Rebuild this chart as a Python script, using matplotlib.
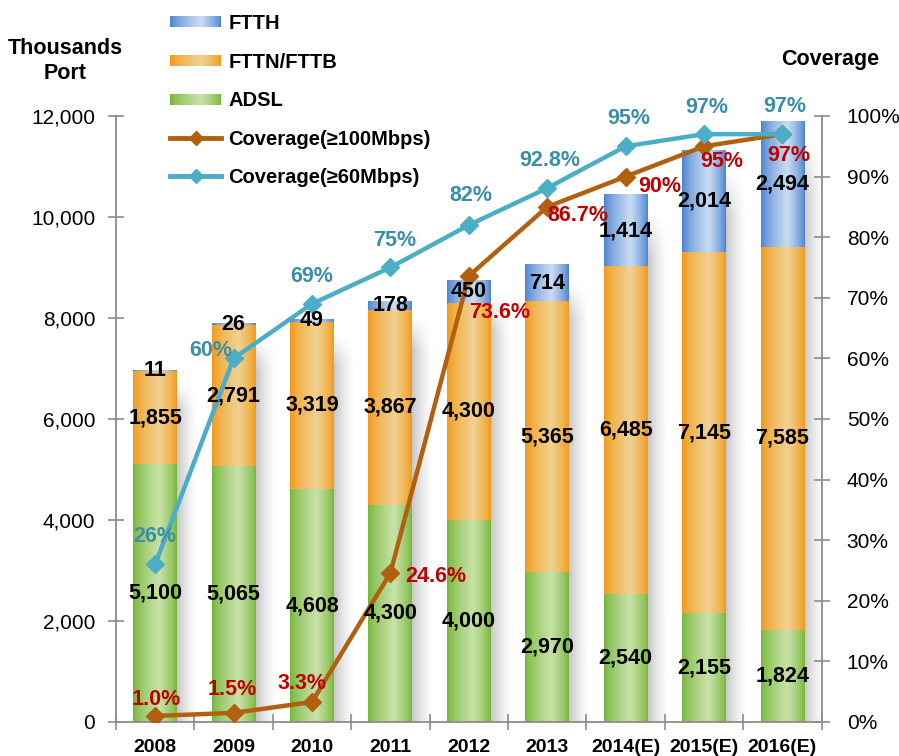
import numpy as np
import matplotlib
matplotlib.use("Agg")
import matplotlib.pyplot as plt
from matplotlib.patches import Rectangle
from matplotlib.lines import Line2D
from matplotlib.legend_handler import HandlerBase
from matplotlib.ticker import FuncFormatter, PercentFormatter, FixedLocator

plt.rcParams['font.family'] = ['Liberation Sans', 'DejaVu Sans']

# ---------------- data ----------------
years = ["2008", "2009", "2010", "2011", "2012", "2013", "2014(E)", "2015(E)", "2016(E)"]
adsl = [5100, 5065, 4608, 4300, 4000, 2970, 2540, 2155, 1824]
fttn = [1855, 2791, 3319, 3867, 4300, 5365, 6485, 7145, 7585]
ftth = [11, 26, 49, 178, 450, 714, 1414, 2014, 2494]
# coverage points as drawn (fraction of 100%)
cov100 = [0.010, 0.015, 0.033, 0.246, 0.736, 0.850, 0.900, 0.950, 0.970]
cov60 = [0.26, 0.60, 0.69, 0.75, 0.82, 0.881, 0.95, 0.97, 0.97]
# coverage labels as printed
cov100_labels = ["1.0%", "1.5%", "3.3%", "24.6%", "73.6%", "86.7%", "90%", "95%", "97%"]
cov60_labels = ["26%", "60%", "69%", "75%", "82%", "92.8%", "95%", "97%", "97%"]

# label offsets in pixels (dx, dy up) -- style only
off60 = [(0, 28), (-23, 8), (0, 27), (4, 27), (2, 30), (3, 28), (3, 28), (3, 27), (2, 28)]
off100 = [(1, 16), (-1, 23), (-10, 18), (45, -4), (31, -37), (31, -9), (34, -10), (18, -15), (6, -21)]

# ---------------- style ----------------
C_ADSL = ("#76b638", "#c8e2a8")
C_FTTN = ("#f29a18", "#f0d192")
C_FTTH = ("#4a83d0", "#cadcf3")
C_L100 = "#b0600f"
C_L60 = "#4badc6"
C_T60 = "#3a8fa6"
C_T100 = "#c00000"
AXC = "#8c8c8c"

def grad_profile(n=64):
    t = np.linspace(0, 1, n)
    g = np.where(t < 0.6, t / 0.6, (1 - t) / 0.4)
    return np.clip(g, 0, 1) ** 0.75

def grad_rgba(edge, light, n=64):
    e = np.array(matplotlib.colors.to_rgba(edge))
    l = np.array(matplotlib.colors.to_rgba(light))
    g = grad_profile(n)[:, None]
    return (e * (1 - g) + l * g)[None, :, :]

fig = plt.figure(figsize=(8.99, 7.56), dpi=100)
ax = fig.add_axes([0.129, 0.045, 0.785, 0.8016])
ax2 = ax.twinx()

x = np.arange(len(years))
w = 0.56
b1 = ax.bar(x, adsl, w, color=C_ADSL[0], zorder=2)
b2 = ax.bar(x, fttn, w, bottom=adsl, color=C_FTTN[0], zorder=2)
bottom3 = np.array(adsl) + np.array(fttn)
b3 = ax.bar(x, ftth, w, bottom=bottom3, color=C_FTTH[0], zorder=2)

# gradients over the bar patches
for cont, cols in ((b1, C_ADSL), (b2, C_FTTN), (b3, C_FTTH)):
    img = grad_rgba(*cols)
    for p in cont.patches:
        px, py = p.get_xy()
        ax.imshow(img, extent=[px, px + p.get_width(), py, py + p.get_height()],
                  aspect='auto', zorder=2.1, interpolation='bilinear')

# soft shadows to the right of the bars (horizontal and vertical fade)
nx, ny = 48, 48
sh = np.zeros((ny, nx, 4))
sh[..., :3] = 0.42
ax_fade = np.linspace(0.5, 0.0, nx) ** 1.4
ay_fade = np.clip(np.linspace(0, 1, ny) / 0.08, 0, 1)  # row 0 = top
sh[..., 3] = ay_fade[:, None] * ax_fade[None, :]
for p in b3.patches:
    px, py = p.get_xy()
    top = py + p.get_height()
    ax.imshow(sh, extent=[px + p.get_width(), px + p.get_width() + 0.26, 0, top * 0.97],
              aspect='auto', zorder=1.5, interpolation='bilinear')

ax.set_xlim(-0.5, len(years) - 0.5)
ax.set_ylim(0, 12000)
ax2.set_ylim(0, 1.0)

# lines
ax2.plot(x, cov100, color=C_L100, lw=3.2, marker='D', ms=9, zorder=3)
ax2.plot(x, cov60, color=C_L60, lw=3.2, marker='D', ms=9, zorder=3)

# bar labels (centered in segments)
for i in range(len(years)):
    for val, bot in ((adsl[i], 0), (fttn[i], adsl[i]), (ftth[i], bottom3[i])):
        ax2.text(x[i], bot + val / 2, f"{val:,}", transform=ax.transData,
                 ha='center', va='center', fontsize=15.5, fontweight='bold',
                 color='black', zorder=5)

# coverage labels
for i in range(len(years)):
    dx, dy = off60[i]
    ax2.annotate(cov60_labels[i], (x[i], cov60[i]), xytext=(dx * 0.72, dy * 0.72),
                 textcoords='offset points', ha='center', va='center',
                 fontsize=15.5, fontweight='bold', color=C_T60, zorder=6)
    dx, dy = off100[i]
    ax2.annotate(cov100_labels[i], (x[i], cov100[i]), xytext=(dx * 0.72, dy * 0.72),
                 textcoords='offset points', ha='center', va='center',
                 fontsize=15.5, fontweight='bold', color=C_T100, zorder=6)

# axes styling
for a in (ax, ax2):
    a.spines['top'].set_visible(False)
    for s in ('left', 'right', 'bottom'):
        a.spines[s].set_color(AXC)
        a.spines[s].set_linewidth(1.3)
    a.set_facecolor('none')
ax2.spines['left'].set_visible(False)
ax2.spines['bottom'].set_visible(False)
ax.spines['right'].set_visible(False)

ax.set_yticks(np.arange(0, 12001, 2000))
ax.yaxis.set_major_formatter(FuncFormatter(lambda v, p: f"{v:,.0f}"))
ax.tick_params(axis='y', direction='inout', length=12, width=1.2, color=AXC,
               labelsize=15, pad=9)
ax2.set_yticks(np.arange(0, 1.0001, 0.1))
ax2.yaxis.set_major_formatter(PercentFormatter(1.0, decimals=0))
ax2.tick_params(axis='y', direction='inout', length=12, width=1.2, color=AXC,
                labelsize=15, pad=12)

ax.xaxis.set_major_locator(FixedLocator(np.arange(-0.5, len(years), 1.0)))
ax.xaxis.set_minor_locator(FixedLocator(x))
ax.tick_params(axis='x', which='major', direction='inout', length=12, width=1.2,
               color=AXC, labelbottom=False)
ax.tick_params(axis='x', which='minor', length=0, pad=12, labelsize=14)
ax.set_xticklabels(years, minor=True, fontweight='bold')

# axis titles
fig.text(65 / 899, 1 - 61 / 756, "Thousands\nPort", ha='center', va='center',
         fontsize=15.5, fontweight='bold', linespacing=1.3)
fig.text(830 / 899, 1 - 60 / 756, "Coverage", ha='center', va='center',
         fontsize=15.5, fontweight='bold')

# legend with gradient patches
class GradHandler(HandlerBase):
    def __init__(self, cols):
        super().__init__()
        self.cols = cols

    def create_artists(self, legend, orig_handle, xdescent, ydescent, width,
                       height, fontsize, trans):
        n = 40
        prof = grad_profile(n)
        e = np.array(matplotlib.colors.to_rgb(self.cols[0]))
        l = np.array(matplotlib.colors.to_rgb(self.cols[1]))
        hh = 11 * 0.72
        y0 = -ydescent + (height - hh) / 2
        arts = []
        for k in range(n):
            c = e * (1 - prof[k]) + l * prof[k]
            r = Rectangle((-xdescent + width * k / n, y0), width / n * 1.1, hh,
                          facecolor=c, edgecolor='none', transform=trans)
            arts.append(r)
        return arts

h_ftth = Rectangle((0, 0), 1, 1)
h_fttn = Rectangle((0, 0), 1, 1)
h_adsl = Rectangle((0, 0), 1, 1)
h100 = Line2D([], [], color=C_L100, lw=3.5, marker='D', ms=7)
h60 = Line2D([], [], color=C_L60, lw=3.5, marker='D', ms=7)
leg = fig.legend([h_ftth, h_fttn, h_adsl, h100, h60],
                 ["FTTH", "FTTN/FTTB", "ADSL", "Coverage(≥100Mbps)", "Coverage(≥60Mbps)"],
                 handler_map={h_ftth: GradHandler(C_FTTH), h_fttn: GradHandler(C_FTTN),
                              h_adsl: GradHandler(C_ADSL)},
                 loc='upper left', bbox_to_anchor=(170 / 899, 1 - 14 / 756),
                 frameon=False, borderpad=0, borderaxespad=0,
                 prop={'weight': 'bold', 'size': 14.5},
                 handlelength=2.55, handletextpad=0.36, labelspacing=0.97,
                 markerfirst=True)
leg.set_zorder(10)

fig.savefig("out.png", dpi=100)
